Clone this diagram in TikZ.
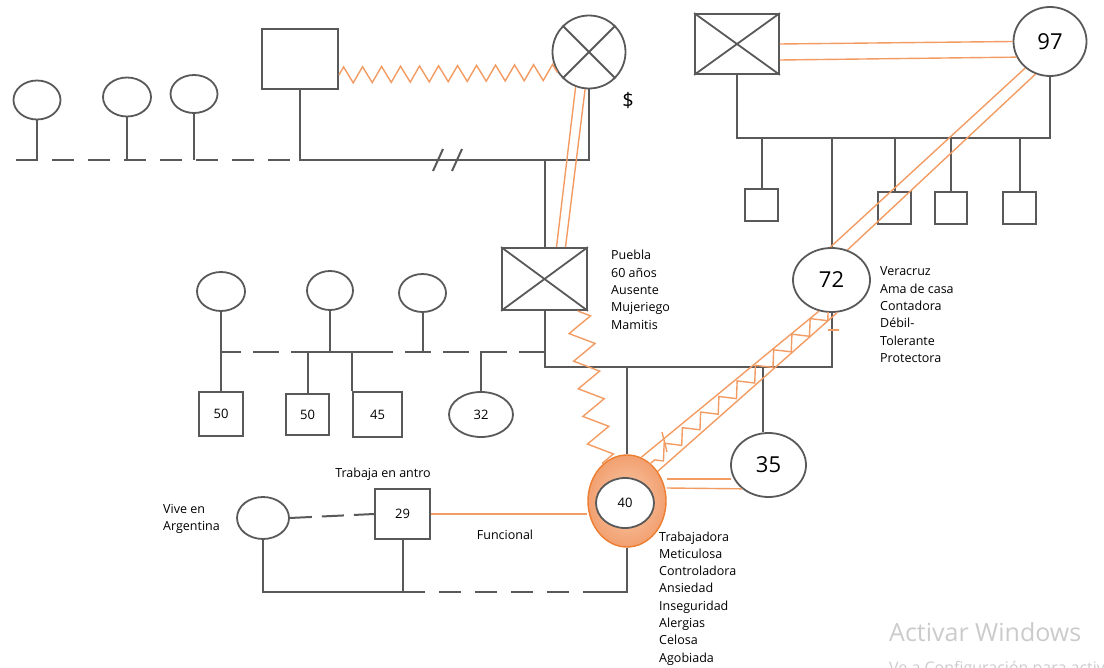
\documentclass[tikz,border=0pt]{standalone}
\usepackage{fontspec}
\setmainfont{Open Sans}
\usetikzlibrary{shapes.geometric,decorations.pathmorphing,calc}
\definecolor{lc}{HTML}{595959}
\definecolor{oc}{HTML}{F29B62}
\definecolor{od}{HTML}{ED7D31}
\definecolor{ofill}{HTML}{F2A070}
\definecolor{ofillin}{HTML}{F9CBAC}
\definecolor{wm}{HTML}{CBCBCB}
\begin{document}
\begin{tikzpicture}[x=1pt,y=-1pt,
  kin/.style={draw=lc,line width=2pt},
  fem/.style={ellipse,draw=lc,line width=1.8pt,inner sep=0pt},
  mal/.style={rectangle,draw=lc,line width=1.8pt,inner sep=0pt},
  rel/.style={draw=oc,line width=1.4pt},
  num/.style={font=\fontsize{13}{15}\selectfont},
  big/.style={font=\fontsize{22}{26}\selectfont},
  note/.style={align=left,anchor=base west,inner sep=0pt,font=\fontsize{12.5}{17.3}\selectfont},
  longdash/.style={dash pattern=on 22pt off 14pt},
  middash/.style={dash pattern=on 26pt off 12pt}
]
\useasboundingbox (0,0) rectangle (1104,668);

% ---------- paternal grandparents and their siblings ----------
\node[fem,minimum width=47pt,minimum height=39pt] (a1) at (37,100) {};
\node[fem,minimum width=48pt,minimum height=39pt] (a2) at (127,97) {};
\node[fem,minimum width=47pt,minimum height=38pt] (a3) at (194,94) {};
\node[mal,minimum width=76pt,minimum height=60pt] (gf) at (300,59) {};
\node[circle,draw=lc,line width=1.8pt,minimum size=73pt,inner sep=0pt] (gm) at (589,52) {};
\draw[lc,line width=1.8pt] (gm.north west) -- (gm.south east) (gm.north east) -- (gm.south west);
\node[font=\fontsize{20}{24}\selectfont] (dol) at (628,100) {\$};

\coordinate (L1) at (16,160);
\draw[kin,longdash] (L1) -- (gf.south |- L1);
\draw[kin] (gf.south) -- (gf.south |- L1) -- (gm.south |- L1) -- (gm.south);
\foreach \n in {a1,a2,a3} \draw[kin] (\n.south) -- (\n.south |- L1);
% break marks on the grandparents' line
\draw[kin] (433,171) -- (443,149) (452,171) -- (462,149);
% conflictive bond between grandparents
\draw[rel,decorate,decoration={zigzag,segment length=19pt,amplitude=8pt}]
  ([yshift=-16pt]gf.east) -- (gm.213);

% ---------- father ----------
\node[mal,minimum width=85pt,minimum height=62pt] (fa) at (544.5,279) {};
\draw[lc,line width=1.8pt] (fa.north west) -- (fa.south east) (fa.north east) -- (fa.south west);
\draw[kin] (fa.north) -- (fa.north |- L1);
\draw[rel] (gm.249) -- ([xshift=12pt]fa.north);
\draw[rel] (gm.264) -- ([xshift=21pt]fa.north);
\node[note] (fatext) at (611,329.2) {Puebla\\60 años\\Ausente\\Mujeriego\\Mamitis};

% ---------- maternal grandparents ----------
\node[mal,minimum width=84pt,minimum height=60pt] (ggf) at (737,44) {};
\draw[lc,line width=1.8pt] (ggf.north west) -- (ggf.south east) (ggf.north east) -- (ggf.south west);
\node[fem,minimum width=73pt,minimum height=69pt,big] (ggm) at (1050,41.5) {97};
\draw[rel] (ggf.east) -- (ggm.west);
\draw[rel] ([yshift=-16pt]ggf.east) -- (ggm.205);
\coordinate (L2) at (737,138);
\draw[kin] (ggf.south) -- (L2) -- (ggm.south |- L2) -- (ggm.south);

\node[mal,minimum width=33pt,minimum height=32pt] (s1) at (761.5,205) {};
\node[mal,minimum width=33pt,minimum height=32pt] (s2) at (894.5,208) {};
\node[mal,minimum width=32pt,minimum height=32pt] (s3) at (951,208) {};
\node[mal,minimum width=33pt,minimum height=32pt] (s4) at (1019.5,208) {};
\foreach \n in {s1,s2,s3,s4} \draw[kin] (\n.north) -- (\n.north |- L2);

% ---------- mother ----------
\node[fem,minimum width=77pt,minimum height=64pt,big] (mo) at (831.5,280) {72};
\draw[kin] (mo.north) -- (mo.north |- L2);
\draw[rel] (ggm.227) -- (mo.92);
\draw[rel] (ggm.246) -- (mo.62);
\node[note] (motext) at (880,362.5) {Veracruz\\Ama de casa\\Contadora\\Débil-\\Tolerante\\Protectora};

% ---------- marriage line and the father's siblings ----------
\coordinate (M) at (0,367);
\draw[kin] (fa.south) -- (fa.south |- M) -- (mo.south |- M) -- (mo.south);

\node[fem,minimum width=48pt,minimum height=39pt] (b1) at (221,291.5) {};
\node[fem,minimum width=46pt,minimum height=39pt] (b2) at (330,290.5) {};
\node[fem,minimum width=47pt,minimum height=38pt] (b3) at (422.5,293) {};
\node[mal,minimum width=44pt,minimum height=44pt,num] (c1) at (221,414) {50};
\node[mal,minimum width=43pt,minimum height=41pt,num] (c2) at (307.5,414.5) {50};
\node[mal,minimum width=49pt,minimum height=45pt,num] (c3) at (377.5,414.5) {45};
\node[fem,minimum width=64pt,minimum height=45pt,num] (d1) at (481,414.5) {32};

\coordinate (S) at (0,352);
\draw[kin,middash] (fa.south |- S) -- (b1.south |- S);
\draw[kin] (b1.south) -- (c1.north);
\draw[kin] (b2.south) -- (b2.south |- S) -- (c2.north |- S) -- (c2.north);
\draw[kin] (c3.north west) -- (c3.north west |- S) -- ++(24,0);
\draw[kin] (b3.south) -- (b3.south |- S);
\draw[kin] (d1.north) -- (d1.north |- S) -- ++(22,0);

% ---------- index person and sister ----------
\node[ellipse,draw=od,line width=1.4pt,minimum width=78pt,minimum height=92pt,
      inner color=ofillin,outer color=ofill] (ego) at (627,501) {};
\node[fem,fill=white,minimum width=58pt,minimum height=50pt,num] (egoin) at (625,503) {40};
\draw[kin] (ego.north) -- (ego.north |- M);
\node[fem,minimum width=75pt,minimum height=64pt,big] (si) at (768.5,465) {35};
\draw[kin] ([xshift=-6pt]si.north) -- ([xshift=-6pt]si.north |- M);
\node[note] (egotext) at (659,662.1)
  {Trabajadora\\Meticulosa\\Controladora\\Ansiedad\\Inseguridad\\Alergias\\Celosa\\Agobiada};

% conflictive bond with the father
\draw[rel,decorate,decoration={zigzag,segment length=28pt,amplitude=12pt}]
  ([xshift=33pt]fa.south) -- (ego.123);
% hostile bond with the mother
\draw[rel] (mo.248) -- (ego.72);
\draw[rel] (mo.280) -- (ego.44);
\draw[rel,decorate,decoration={zigzag,segment length=24pt,amplitude=6.5pt}]
  ($(mo.248)!0.5!(mo.280)$) -- ($(ego.72)!0.5!(ego.44)$);
\draw[rel] (828,330) -- (839,330);
\draw[rel] (662,432) -- (667,452);
% close bond with the sister
\draw[rel] ([yshift=22pt]ego.east) -- ++(64,0);
\draw[rel] ([yshift=13pt]ego.east) -- (si.222);

% ---------- partner and son ----------
\node[fem,minimum width=52pt,minimum height=42pt] (p1) at (263,518) {};
\node[mal,minimum width=55pt,minimum height=50pt,num] (p2) at (402.5,514) {29};
\node[font=\fontsize{12.5}{14}\selectfont,anchor=base] (p2text) at (383,477) {Trabaja en antro};
\node[note] (p1text) at (163,530.3) {Vive en\\Argentina};
\draw[kin,dash pattern=on 22pt off 10pt] (p1.east) -- (p2.west);
\coordinate (B) at (0,592);
\draw[kin] (p1.south) -- (p1.south |- B) -- (p2.south |- B);
\draw[kin] (p2.south) -- (p2.south |- B);
\draw[kin,longdash] (p2.south |- B) -- (ego.south |- B);
\draw[kin] (ego.south) -- (ego.south |- B) -- ++(-26,0);
\draw[rel] (p2.east) -- (ego.west |- p2.east);
\node[font=\fontsize{12.5}{14}\selectfont,anchor=base] (funtext) at (505,539) {Funcional};

% ---------- screen watermark ----------
\node[anchor=base west,inner sep=0pt,text=wm,font=\fontsize{25}{30}\selectfont] (wm1) at (889,641) {Activar Windows};
\node[anchor=base west,inner sep=0pt,text=wm,font=\fontsize{16}{19}\selectfont] (wm2) at (889,673) {Ve a Configuración para activar Windows.};
\end{tikzpicture}
\end{document}
